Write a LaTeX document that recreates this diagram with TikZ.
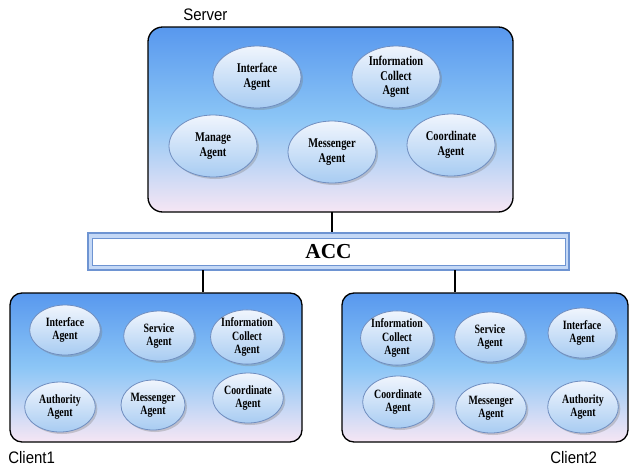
\documentclass[tikz,border=0pt]{standalone}
\usepackage{fontspec}
\setmainfont{Liberation Serif}
\newfontfamily\agfont{Liberation Serif}[FakeStretch=0.78]
\newfontfamily\labfont{Liberation Sans}[FakeStretch=0.9]
\usetikzlibrary{shapes.geometric,shadows}
\definecolor{boxtop}{RGB}{88,152,238}
\definecolor{boxmid}{RGB}{140,198,246}
\definecolor{boxbot}{RGB}{246,230,244}
\definecolor{elltop}{RGB}{240,245,253}
\definecolor{ellbot}{RGB}{168,204,242}
\definecolor{ellline}{RGB}{112,142,192}
\definecolor{accfill}{RGB}{196,216,246}
\definecolor{accline}{RGB}{110,148,210}
\tikzset{
  groupbox/.style={draw=black, line width=1pt, rounded corners=11pt,
    top color=boxtop, bottom color=boxbot, middle color=boxmid, inner sep=0pt},
  agent/.style={ellipse, draw=ellline, line width=0.6pt, top color=elltop, bottom color=ellbot,
    drop shadow={opacity=0.35, shadow xshift=1.5pt, shadow yshift=-1.5pt},
    inner sep=0pt, align=center, font=\agfont\bfseries},
  sagent/.style={agent, minimum width=66pt, minimum height=46.5pt,
    font=\agfont\bfseries\fontsize{10}{11}\selectfont},
  cagent/.style={agent, minimum width=53pt, minimum height=37.5pt,
    font=\agfont\bfseries\fontsize{9.5}{10}\selectfont},
  grouplabel/.style={anchor=west, inner sep=0pt, font=\labfont\fontsize{12.5}{14}\selectfont},
  link/.style={draw=black, line width=1.1pt},
}
\begin{document}
\begin{tikzpicture}[x=0.75pt,y=-0.75pt]
\useasboundingbox (0,0) rectangle (630,469);
% Server
\node[groupbox, minimum width=273.75pt, minimum height=138.75pt] (server) at (330.5,119.5) {};
\node[grouplabel] (serverlab) at (183,15) {Server};
\node[sagent] (sI) at (257,77) {Interface\\Agent};
\node[sagent] (sIC) at (396,77) {Information\\Collect\\Agent};
\node[sagent] (sM) at (213,146) {Manage\\Agent};
\node[sagent] (sMs) at (332,152) {Messenger\\Agent};
\node[sagent] (sC) at (451,145) {Coordinate\\Agent};
% ACC
\node[draw=accline, fill=accfill, line width=0.8pt, minimum width=360.75pt, minimum height=27.75pt, inner sep=0pt,
  drop shadow={opacity=0.25, shadow xshift=1pt, shadow yshift=-1pt}] (accbox) at (328.5,251.5) {};
\node[draw=accline, fill=white, line width=0.6pt, minimum width=354.75pt, minimum height=20.25pt, inner sep=0pt,
  font=\bfseries\fontsize{16}{18}\selectfont] (acc) at (accbox.center) {ACC};
% Client1
\node[groupbox, rounded corners=9pt, minimum width=219pt, minimum height=111.75pt] (c1) at (156,367.5) {};
\node[grouplabel] (c1lab) at (8,458) {Client1};
\node[cagent] (c1I) at (65,330) {Interface\\Agent};
\node[cagent] (c1S) at (159,336) {Service\\Agent};
\node[cagent] (c1IC) at (247,337) {Information\\Collect\\Agent};
\node[cagent] (c1A) at (60,407) {Authority\\Agent};
\node[cagent, minimum width=48pt] (c1M) at (153,405) {Messenger\\Agent};
\node[cagent] (c1C) at (248,398) {Coordinate\\Agent};
% Client2
\node[groupbox, rounded corners=9pt, minimum width=214.5pt, minimum height=111.75pt] (c2) at (485,367.5) {};
\node[grouplabel] (c2lab) at (550,458) {Client2};
\node[cagent, minimum height=39pt] (c2IC) at (397,338) {Information\\Collect\\Agent};
\node[cagent] (c2S) at (490,337) {Service\\Agent};
\node[cagent, minimum width=51pt] (c2I) at (582,333) {Interface\\Agent};
\node[cagent, minimum height=39pt] (c2C) at (398,402) {Coordinate\\Agent};
\node[cagent] (c2M) at (491,408) {Messenger\\Agent};
\node[cagent, minimum height=39pt] (c2A) at (583,407) {Authority\\Agent};
% connectors
\coordinate (sdown) at (332,212);
\coordinate (adown1) at (203,270);
\coordinate (adown2) at (455,270);
\draw[link] (sdown) -- (sdown |- accbox.north);
\draw[link] (adown1) -- (adown1 |- c1.north);
\draw[link] (adown2) -- (adown2 |- c2.north);
\end{tikzpicture}
\end{document}
